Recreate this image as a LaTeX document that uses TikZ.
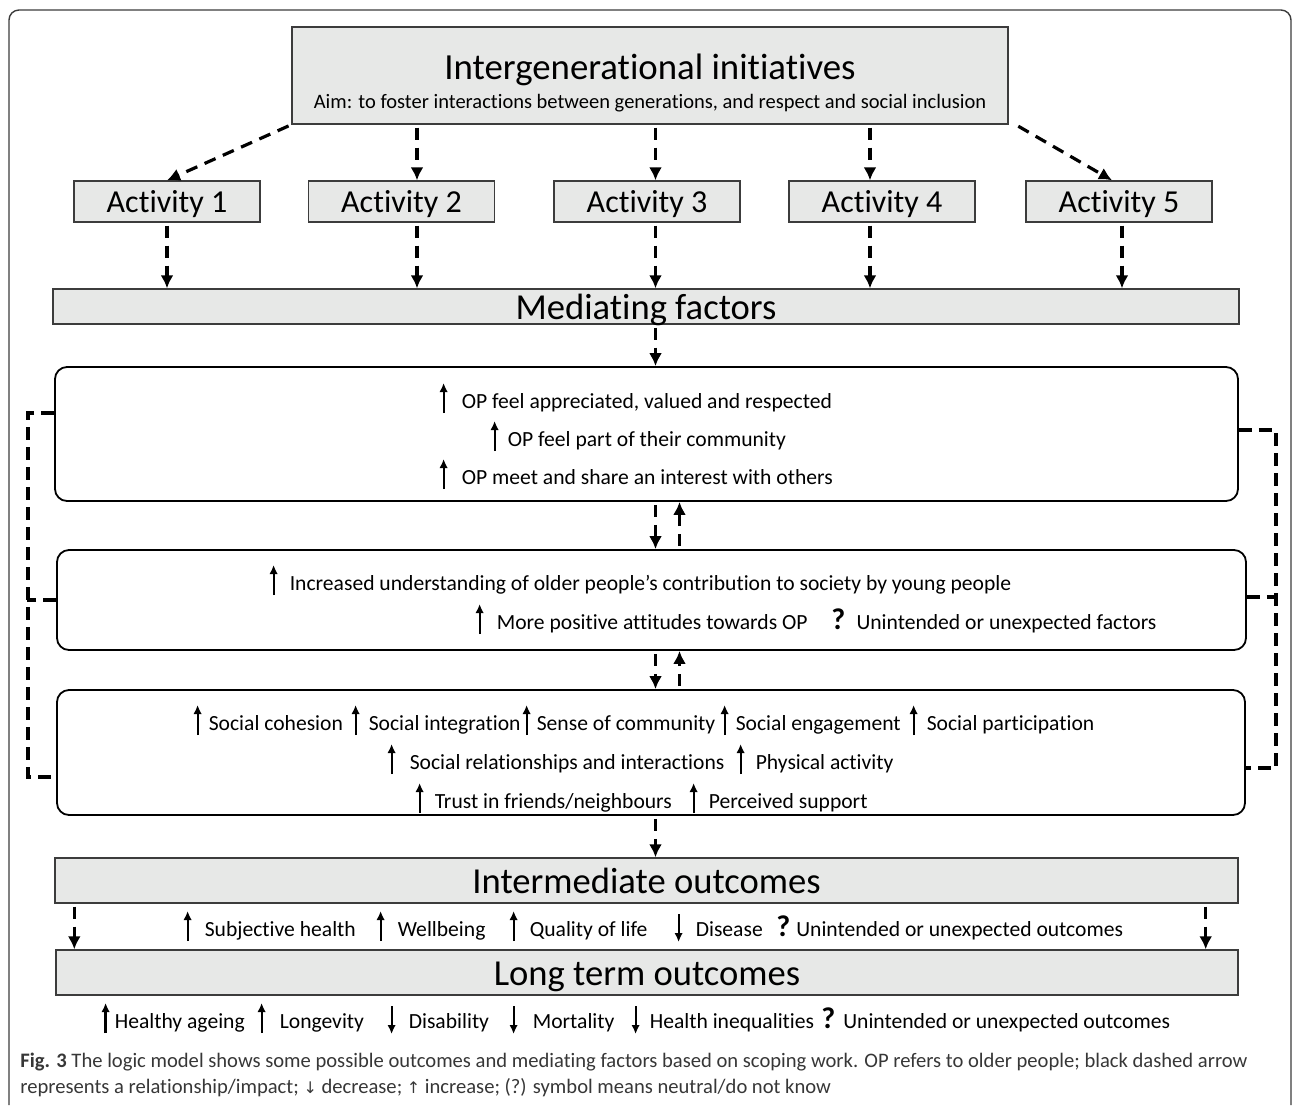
\documentclass[tikz,border=0pt]{standalone}
\usepackage{fontspec}
\setmainfont{Carlito}[RawFeature={-liga;-clig;-calt;-dlig}]
\newfontfamily\symfont{DejaVu Sans}
\usepackage{xcolor}
\usepackage{tikz}
\usetikzlibrary{calc, arrows.meta, positioning}

\definecolor{boxgrey}{RGB}{231,232,231}
\definecolor{framegrey}{RGB}{60,60,60}
\definecolor{capgrey}{RGB}{55,55,55}

\newcommand{\upar}{\tikz[baseline=0pt]\draw[line width=1.1pt,-{Latex[length=4.5pt,width=4.2pt]}] (0pt,-2.5pt) -- (0pt,12.5pt);}
\newcommand{\dnar}{\tikz[baseline=0pt]\draw[line width=1.1pt,-{Latex[length=4.5pt,width=4.2pt]}] (0pt,11pt) -- (0pt,-3pt);}
\newcommand{\qmark}{{\fontsize{15}{15}\selectfont\bfseries ?}}

\begin{document}
\begin{tikzpicture}[x=0.5pt, y=-0.5pt, >={Latex[length=6.5pt,width=6.5pt]}]
		\tikzstyle{gbox} = [draw=framegrey, fill=boxgrey, line width=0.7pt, inner sep=0pt]
		\tikzstyle{act} = [gbox, minimum width=93pt, minimum height=20.5pt, text height=11.5pt, text depth=1pt, font=\fontsize{16}{16}\selectfont]
		\tikzstyle{band} = [gbox, minimum height=22.5pt, text height=14pt, text depth=1.5pt, font=\fontsize{18.3}{18.3}\selectfont]
		\tikzstyle{rbox} = [draw=black, line width=0.9pt, rounded corners=6pt, inner sep=0pt]
		\tikzstyle{item} = [anchor=base west, inner sep=0pt, xshift=-2pt, font=\fontsize{10.8}{13}\selectfont]
		\tikzstyle{arrow} = [->, line width=1.6pt, dash pattern=on 6pt off 4pt, shorten <=1.5pt]
		\tikzstyle{bracket} = [line width=1.9pt, dash pattern=on 6.5pt off 3.5pt]
		
		\useasboundingbox (0,0) rectangle (1292,1105);
		\draw[framegrey, line width=0.7pt, rounded corners=5pt] (9,1105) -- (9,10) -- (1291,10) -- (1291,1105);
		
		% initiative and activities
		\node[gbox, minimum width=358pt, minimum height=48.5pt, text height=5pt, text depth=1.5pt, font=\fontsize{18.4}{18.4}\selectfont] at (650, 75.5) (init) {Intergenerational initiatives};
		\node[anchor=base, inner sep=0pt, font=\fontsize{10.25}{12}\selectfont] at ([yshift=-14.5pt]init.base) (aim) {Aim: to foster interactions between generations, and respect and social inclusion};
		
		\node[act] 	at (167, 201.5) 	(act1) 	{Activity 1};
		\node[act] 	at (401.5, 201.5) 	(act2) 	{Activity 2};
		\node[act] 	at (647, 201.5) 	(act3) 	{Activity 3};
		\node[act] 	at (882, 201.5) 	(act4) 	{Activity 4};
		\node[act] 	at (1119, 201.5) 	(act5) 	{Activity 5};
		
		% mediating factors
		\node[band, minimum width=593pt, minimum height=17.5pt] at (646, 306.5) (med) {Mediating factors};
		\node[rbox, minimum width=591.5pt, minimum height=67pt] 	at (646.5, 434) 	(op) 		{};
		\node[rbox, minimum width=594.5pt, minimum height=50pt] 	at (651.5, 600) 	(young) 	{};
		\node[rbox, minimum width=594pt, minimum height=62.5pt] 	at (651, 752.5) 	(social) 	{};
		
		% outcomes
		\node[band, minimum width=591.5pt] 	at (646.5, 880.5) 	(inter) 	{Intermediate outcomes};
		\node[band, minimum width=591pt] 	at (647, 972.5) 	(long) 		{Long term outcomes};
		
		\coordinate (p1) at (act1.center);
		\coordinate (p2) at ([xshift=7.75pt]act2.center);
		\coordinate (p3) at ([xshift=4.25pt]act3.center);
		\coordinate (p4) at ([xshift=-6pt]act4.center);
		\coordinate (p5) at ([xshift=1.5pt]act5.center);
		\coordinate (u3) at ([xshift=12pt]p3);
		
		\draw[arrow] (init.south west) -- (act1.north);
		\draw[arrow] (init.south -| p2) -- (act2.north -| p2);
		\draw[arrow] (init.south -| p3) -- (act3.north -| p3);
		\draw[arrow] (init.south -| p4) -- (act4.north -| p4);
		\draw[arrow] ([xshift=3.5pt]init.south east) -- ([xshift=-3.5pt]act5.north);
		
		\draw[arrow] (act1.south -| p1) -- (med.north -| p1);
		\draw[arrow] (act2.south -| p2) -- (med.north -| p2);
		\draw[arrow] (act3.south -| p3) -- (med.north -| p3);
		\draw[arrow] (act4.south -| p4) -- (med.north -| p4);
		\draw[arrow] (act5.south -| p5) -- (med.north -| p5);
		
		\draw[arrow] (med.south -| p3) -- (op.north -| p3);
		\draw[arrow] (op.south -| p3) -- (young.north -| p3);
		\draw[arrow] (young.north -| u3) -- (op.south -| u3);
		\draw[arrow] (young.south -| p3) -- (social.north -| p3);
		\draw[arrow] (social.north -| u3) -- (young.south -| u3);
		\draw[arrow] (social.south -| p3) -- (inter.north -| p3);
		\draw[arrow] ([xshift=10pt]inter.south west) -- ([xshift=9.5pt]long.north west);
		\draw[arrow] ([xshift=-16.5pt]inter.south east) -- ([xshift=-16.5pt]long.north east);
		
		\draw[bracket] ([yshift=10.5pt]op.west) -- ++(-13pt,0) |- ([yshift=-12.25pt]social.west);
		\draw[bracket] (young.west) -- ++(-14.5pt,0);
		\draw[bracket] ([yshift=2pt]op.east) -- ++(18.5pt,0) |- ([yshift=-7.75pt]social.east);
		\draw[bracket] ([yshift=1.5pt]young.east) -- ++(14.5pt,0);
		
		% factors inside the boxes
		\node[item] at (443, 408) (op1) {\upar\hspace{7pt}OP feel appreciated, valued and respected};
		\node[item] at (494, 446) (op2) {\upar\hspace{4.5pt}OP feel part of their community};
		\node[item] at (443, 484) (op3) {\upar\hspace{7pt}OP meet and share an interest with others};
		
		\node[item] at (273, 590) (yp1) {\upar\hspace{6pt}Increased understanding of older people’s contribution to society by young people};
		\node[item] at (479, 629) (yp2) {\upar\hspace{6.5pt}More positive attitudes towards OP};
		\node[item] at (835, 629) (yp3) {\qmark\hspace{5.6pt}Unintended or unexpected factors};
		
		\node[item] at (197, 730) (sc1) {\upar\hspace{3.5pt}Social cohesion};
		\node[item] at (355, 730) (sc2) {\upar\hspace{4.5pt}Social integration};
		\node[item] at (526, 730) (sc3) {\upar\hspace{3pt}Sense of community};
		\node[item] at (724, 730) (sc4) {\upar\hspace{3.5pt}Social engagement};
		\node[item] at (913, 730) (sc5) {\upar\hspace{4.5pt}Social participation};
		\node[item] at (391, 769) (sc6) {\upar\hspace{7pt}Social relationships and interactions};
		\node[item] at (740, 769) (sc7) {\upar\hspace{5.5pt}Physical activity};
		\node[item] at (419, 808) (sc8) {\upar\hspace{5.5pt}Trust in friends/neighbours};
		\node[item] at (693, 808) (sc9) {\upar\hspace{5.5pt}Perceived support};
		
		\node[item] at (187, 936) (io1) {\upar\hspace{6.5pt}Subjective health};
		\node[item] at (380, 936) (io2) {\upar\hspace{6.5pt}Wellbeing};
		\node[item] at (513, 936) (io3) {\upar\hspace{6pt}Quality of life};
		\node[item] at (678, 936) (io4) {\dnar\hspace{6.5pt}Disease};
		\node[item] at (780, 936) (io5) {\qmark\hspace{3pt}Unintended or unexpected outcomes};
		
		\node[item] at (105, 1028) (lo1) {\upar\hspace{2.5pt}Healthy ageing};
		\node[item] at (261, 1028) (lo2) {\upar\hspace{7pt}Longevity};
		\node[item] at (391, 1028) (lo3) {\dnar\hspace{6.5pt}Disability};
		\node[item] at (513, 1028) (lo4) {\dnar\hspace{7.5pt}Mortality};
		\node[item] at (635, 1028) (lo5) {\dnar\hspace{5pt}Health inequalities};
		\node[item] at (825, 1028) (lo6) {\qmark\hspace{4pt}Unintended or unexpected outcomes};
		
		% caption
		\node[anchor=base west, inner sep=0pt, text=capgrey, font=\fontsize{10.3}{12}\selectfont] at (20, 1067) (cap1) {\textbf{Fig. 3} The logic model shows some possible outcomes and mediating factors based on scoping work. OP refers to older people; black dashed arrow};
		\node[anchor=base west, inner sep=0pt, text=capgrey, font=\fontsize{10.3}{12}\selectfont] at (20, 1093) (cap2) {represents a relationship/impact; {\symfont\fontsize{8}{10}\selectfont ↓} decrease; {\symfont\fontsize{8}{10}\selectfont ↑} increase; (?) symbol means neutral/do not know};
	\end{tikzpicture}
\end{document}
